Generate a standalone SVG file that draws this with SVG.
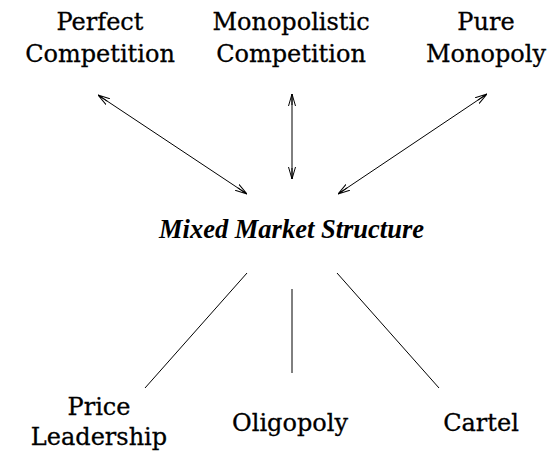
<svg xmlns="http://www.w3.org/2000/svg" width="556" height="452" viewBox="0 0 556 452">
<style>
.lbl{font-family:"DejaVu Serif","Liberation Serif",serif;font-size:24px;fill:#000;stroke:#000;stroke-width:0.3;text-anchor:middle}
.ctr{font-family:"Liberation Serif","Times New Roman",serif;font-size:26.5px;font-weight:bold;font-style:italic;fill:#000;text-anchor:middle}
.conn{stroke:#000;stroke-width:1;fill:none}
</style>
<defs>
<marker id="ah" viewBox="0 0 12 8" refX="12" refY="4" markerWidth="12" markerHeight="8" markerUnits="userSpaceOnUse" orient="auto-start-reverse">
<path d="M0,0.5 L12,4 L0,7.5 M1,4 L12,4" fill="none" stroke="#000" stroke-width="1"/>
</marker>
</defs>
<rect width="556" height="452" fill="#fff"/>
<g id="perfect"><text class="lbl" x="100" y="30">Perfect</text><text class="lbl" x="100" y="62">Competition</text></g>
<g id="monopolistic"><text class="lbl" x="291" y="30">Monopolistic</text><text class="lbl" x="291" y="62">Competition</text></g>
<g id="pure"><text class="lbl" x="486" y="30">Pure</text><text class="lbl" x="486" y="62">Monopoly</text></g>
<g id="mixed"><text class="ctr" x="291.5" y="238">Mixed Market Structure</text></g>
<g id="price"><text class="lbl" x="99" y="415">Price</text><text class="lbl" x="99" y="445">Leadership</text></g>
<g id="oligopoly"><text class="lbl" x="290" y="431">Oligopoly</text></g>
<g id="cartel"><text class="lbl" x="481" y="431">Cartel</text></g>
<g id="connectors">
<line class="conn" x1="98" y1="95" x2="247" y2="194" marker-start="url(#ah)" marker-end="url(#ah)"/>
<line class="conn" x1="292" y1="94" x2="292" y2="179" marker-start="url(#ah)" marker-end="url(#ah)"/>
<line class="conn" x1="487" y1="94" x2="338" y2="194" marker-start="url(#ah)" marker-end="url(#ah)"/>
<line class="conn" x1="247" y1="273" x2="145" y2="388"/>
<line class="conn" x1="292" y1="289" x2="292" y2="373"/>
<line class="conn" x1="337" y1="273" x2="439" y2="388"/>
</g>
</svg>
